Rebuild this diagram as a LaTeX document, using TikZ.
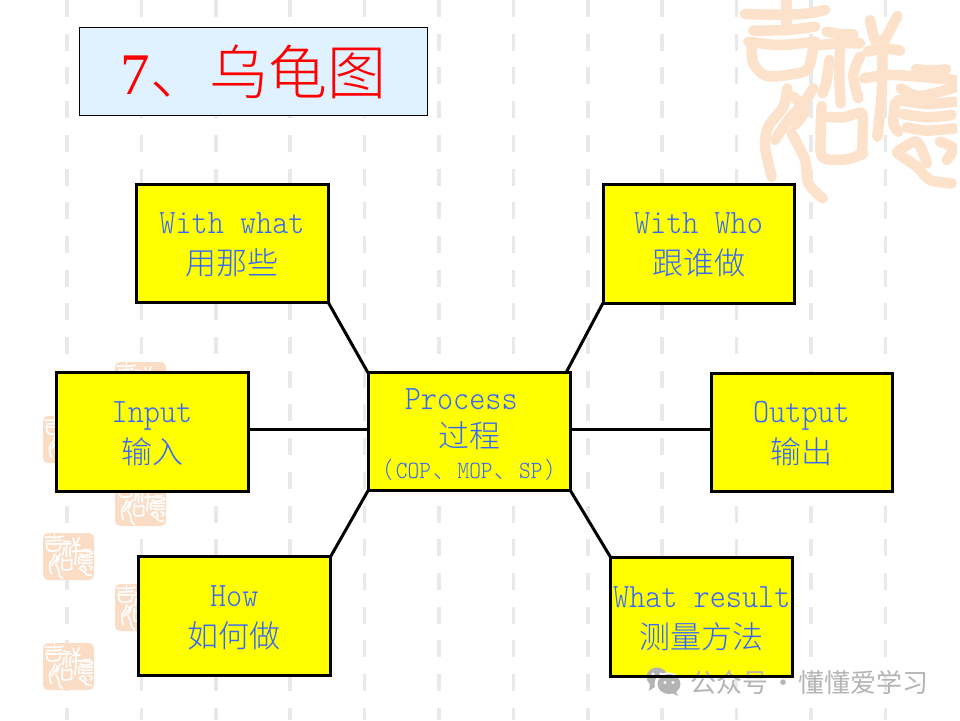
\documentclass[tikz,border=0pt]{standalone}
\usepackage{fontspec}
\newfontfamily\cjk[UprightFont=* Light]{Noto Sans CJK SC}
\newfontfamily\cjkreg{Noto Sans CJK SC}
\newfontfamily\titlelat{Liberation Serif}
\newfontfamily\lat[FakeStretch=0.9,Scale=1.1]{Latin Modern Mono Light}
\definecolor{peach}{HTML}{FDE2CB}
\definecolor{sealfill}{HTML}{FBDDC6}
\definecolor{gridgrey}{HTML}{E9E9E9}
\definecolor{titlefill}{HTML}{E0F2FF}
\definecolor{labelblue}{HTML}{3366FF}
\definecolor{markgrey}{HTML}{B4B4B4}
\definecolor{cardfill}{HTML}{FFFF00}
\definecolor{titlered}{HTML}{FF0000}
\newcommand{\upr}{\rule{0pt}{24pt}}
\tikzset{
  card/.style={draw=black,fill=cardfill,line width=3pt,outer sep=0pt,inner sep=0pt,
    text=labelblue,align=center,font=\fontsize{31}{41}\selectfont},
  link/.style={draw=black,line width=3pt},
}
\newcommand{\sealstrokes}[2]{%
  \begin{scope}[draw=#1,line width=#2,line cap=round,line join=round]
  % ji
  \draw plot[smooth] coordinates {(255,42) (330,44) (430,42) (495,30)};
  \draw (380,0) -- (380,90);
  \draw plot[smooth] coordinates {(280,92) (380,90) (465,80)};
  \draw plot[smooth] coordinates {(265,125) (360,135) (465,125)};
  \draw plot[smooth] coordinates {(275,130) (280,190) (320,228) (400,222) (445,205) (462,125)};
  % shi radical
  \draw plot[smooth] coordinates {(500,95) (540,102) (580,103)};
  \draw plot[smooth] coordinates {(480,135) (540,130) (600,130)};
  \draw plot[smooth] coordinates {(540,135) (538,230) (542,310)};
  \draw plot[smooth] coordinates {(508,180) (500,240) (488,280)};
  \draw plot[smooth] coordinates {(600,170) (580,225) (595,295)};
  % yang
  \draw plot[smooth] coordinates {(630,60) (640,105) (655,140)};
  \draw plot[smooth] coordinates {(712,48) (690,90) (670,130)};
  \draw plot[smooth] coordinates {(622,155) (670,145) (720,152)};
  \draw plot[smooth] coordinates {(612,235) (700,225) (885,240)};
  \draw plot[smooth] coordinates {(668,120) (665,280) (652,410)};
  % yi
  \draw plot[smooth] coordinates {(768,207) (810,212) (858,208)};
  \draw plot[smooth] coordinates {(722,265) (780,288) (885,262)};
  \draw plot[smooth] coordinates {(715,300) (800,312) (885,305)};
  \draw plot[smooth] coordinates {(730,342) (800,352) (875,345)};
  \draw plot[smooth] coordinates {(705,310) (700,370) (715,395)};
  \draw plot[smooth] coordinates {(740,382) (800,392) (885,385)};
  \draw plot[smooth] coordinates {(712,455) (770,425) (800,490)};
  \draw plot[smooth] coordinates {(840,425) (880,445) (860,480)};
  \draw plot[smooth] coordinates {(712,460) (770,500) (810,540) (875,550)};
  % ru: nu
  \draw plot[smooth] coordinates {(382,265) (370,320) (325,380) (315,440) (335,530)};
  \draw plot[smooth] coordinates {(460,265) (430,310) (385,360) (345,420)};
  \draw plot[smooth] coordinates {(400,290) (435,330) (405,375)};
  \draw plot[smooth] coordinates {(395,400) (435,480) (445,550) (488,595)};
  % ru: kou
  \draw plot[smooth] coordinates {(485,318) (482,400) (488,472) (560,478) (610,460)};
  \draw plot[smooth] coordinates {(490,350) (550,352) (605,340) (608,400) (605,465)};
  \end{scope}}
\newcommand{\smallseal}[2]{%
  \fill[sealfill,rounded corners=5pt] (#1,#2) rectangle ++(51,47);
  \begin{scope}[shift={(#1-17,#2+1)},scale=0.075]
    \sealstrokes{white}{1.7pt}
  \end{scope}}
\begin{document}
\begin{tikzpicture}[x=1pt,y=-1pt]
\useasboundingbox (0,0) rectangle (960,720);
\fill[white] (0,0) rectangle (960,720);

\foreach \gx in {67,141.4,215.8,290.2,364.6,439,513.4,587.8,662.2,736.6,811,885.4}
  \draw[gridgrey,line width=3.5pt,dash pattern=on 17pt off 16.7pt] (\gx,0) -- (\gx,720);

\begin{scope}
  \clip (0,0) rectangle (957,720);
  \begin{scope}[shift={(660,0)},scale=1/3]
    \sealstrokes{peach}{10.5pt}
  \end{scope}
\end{scope}

\smallseal{115}{362}
\smallseal{43}{416}
\smallseal{115}{479}
\smallseal{43}{533}
\smallseal{115}{584}
\smallseal{43}{643}

% title
\node[draw=black,fill=titlefill,line width=1pt,outer sep=0pt,inner sep=0pt,
  minimum width=348pt,minimum height=88pt,text=titlered] (title) at (253.5,71.5)
  {\fontsize{59}{62}\selectfont\titlelat 7\cjk 、乌龟图};

% cards
\node[card,minimum width=192pt,minimum height=118pt] (withwhat) at (232,243)
  {\upr\lat With what\\\cjk 用那些};
\node[card,minimum width=191pt,minimum height=119pt] (withwho) at (698.5,243.5)
  {\upr\lat With Who\\\cjk 跟谁做};
\node[card,minimum width=192pt,minimum height=119.5pt] (input) at (152,431.75)
  {\upr\lat Input\\\cjk 输入};
\node[card,minimum width=192.5pt,minimum height=118.5pt] (how) at (234.25,616)
  {\upr\lat How\\\cjk 如何做};
\node[card,minimum width=202.5pt,minimum height=118pt] (process) at (469.25,431.75)
  {\rule{0pt}{27pt}\lat Process\hspace*{16pt}\\[-3pt]\cjk 过程\\[-10pt]
   \fontsize{22.5}{30}\selectfont\cjk （\kern3pt\lat COP\kern2pt\cjk 、\kern2pt\lat MOP\kern2pt\cjk 、\kern2pt\lat SP\kern3pt\cjk ）};
\node[card,minimum width=181pt,minimum height=118pt] (output) at (801.5,432)
  {\upr\lat Output\\\cjk 输出};
\node[card,minimum width=182pt,minimum height=118.5pt] (result) at (701.75,616.75)
  {\upr\lat What result\\\cjk 测量方法};

% connectors
\coordinate (hline) at (0,429);
\draw[link] (withwhat.south east) -- (process.north west);
\draw[link] (withwho.south west) -- ([xshift=-4.5pt]process.north east);
\draw[link] (input.east |- hline) -- (process.west |- hline);
\draw[link] (process.east |- hline) -- (output.west |- hline);
\draw[link] (how.north east) -- (process.south west);
\draw[link] (result.north west) -- (process.south east);

% watermark
\fill[markgrey] (657,677) ellipse (10.5pt and 9.5pt);
\fill[markgrey] (650,684) -- (649,691) -- (656,686) -- cycle;
\fill[white] (668,684) ellipse (13.5pt and 11.5pt);
\fill[markgrey] (669,684) ellipse (11.5pt and 10pt);
\fill[markgrey] (675,690) -- (678,696) -- (670,692) -- cycle;
\fill[white] (665,682.5) circle (1.6pt);
\fill[white] (673,682.5) circle (1.6pt);
\fill[white] (653,674) circle (1.6pt);
\fill[white] (661,674) circle (1.6pt);
\node[anchor=west,inner sep=0pt,text=markgrey,font=\fontsize{26}{30}\selectfont\cjkreg] (mark) at (690,682)
  {公众号\makebox[30pt][c]{·}懂懂爱学习};
\draw[black,line width=3pt] (result.south west) -- (result.south east);
\end{tikzpicture}
\end{document}
